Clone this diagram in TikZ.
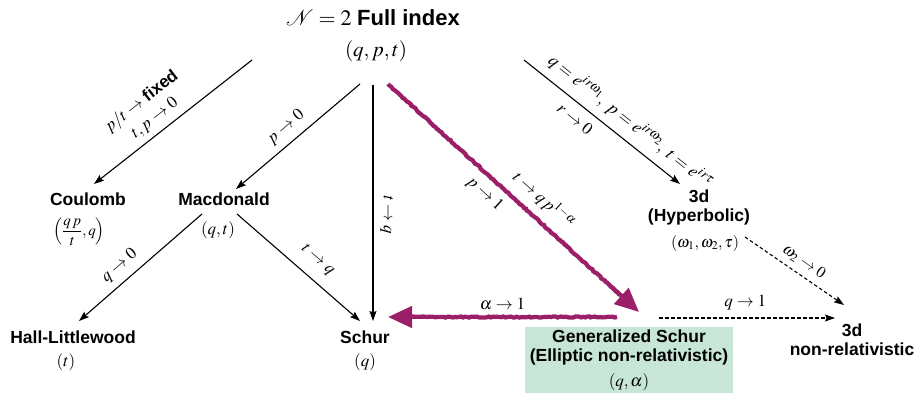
\documentclass[tikz,border=0pt]{standalone}
\usepackage{mathptmx}
\usepackage{fontspec}
\setmainfont{Liberation Serif}
\setsansfont{Liberation Sans}
\usetikzlibrary{arrows.meta,decorations.pathmorphing,calc}
\definecolor{magc}{RGB}{155,30,105}
\definecolor{boxg}{RGB}{200,230,215}
\begin{document}
\begin{tikzpicture}[x=1pt,y=-1pt,
  lab/.style={font=\sffamily\bfseries\fontsize{17.5}{19.5}\selectfont, inner sep=0pt, align=center},
  mth/.style={font=\fontsize{17}{20}\selectfont, inner sep=0pt},
  conn/.style={-{Stealth[length=10pt,width=7pt,inset=1.5pt]}, line width=1.1pt},
  dconn/.style={conn, dash pattern=on 3.5pt off 2.5pt},
  elab/.style={font=\fontsize{17}{21}\selectfont, sloped, inner sep=7pt},
  magline/.style={draw=magc, line width=4.2pt, decorate, decoration={random steps, segment length=2pt, amplitude=0.6pt}},
  magtip/.style={draw=magc, fill=magc, line width=4.2pt, -{Triangle[length=24pt,width=21pt]}}
]
\useasboundingbox (0,0) rectangle (915,393);

% nodes
\node[font=\fontsize{22}{26}\selectfont, inner sep=0pt] (title) at (373,18) {$\mathcal{N}=2$ \textsf{\bfseries Full index}};
\node[font=\fontsize{21}{26}\selectfont, inner sep=0pt] (topv) at (376,51) {$(q,p,t)$};

\node[lab] (coul) at (88,199) {Coulomb};
\node[mth, font=\fontsize{15}{18}\selectfont] (coulv) at (79,232) {$\left({\displaystyle\frac{q\,p}{t}},q\right)$};
\node[lab] (mac) at (224,199) {Macdonald};
\node[mth] (macv) at (218,230) {$(q,t)$};
\node[lab] (hl) at (73,337) {Hall-Littlewood};
\node[mth] (hlv) at (66,362) {$(t)$};
\node[lab] (schur) at (365,337) {Schur};
\node[mth] (schurv) at (365,362) {$(q)$};
\node[lab] (hyp) at (699,207.5) {3d\\(Hyperbolic)};
\node[mth, font=\fontsize{16}{20}\selectfont] (hypv) at (705,243) {$(\omega_1,\omega_2,\tau)$};
\node[fill=boxg, minimum width=208pt, minimum height=70pt, inner sep=0pt] (gbox) at (629,362) {};
\node[lab] (gen) at (629,347.5) {Generalized Schur\\(Elliptic non-relativistic)};
\node[mth] (genv) at (629,382) {$(q,\alpha)$};
\node[lab] (nr) at (852,339.5) {3d\\non-relativistic};

% connector end points
\coordinate (a1s) at (252,60);  \coordinate (a1e) at (94,184);
\coordinate (a2s) at (360,84);  \coordinate (a2e) at (236,189);
\coordinate (a3s) at (373,85);  \coordinate (a3e) at (373,321);
\coordinate (a4s) at (202,214); \coordinate (a4e) at (79,321);
\coordinate (a5s) at (237,214); \coordinate (a5e) at (360,321);
\coordinate (a6s) at (524,60);  \coordinate (a6e) at (680,184);
\coordinate (a7s) at (745,237); \coordinate (a7e) at (844,305);
\coordinate (a8s) at (659,318); \coordinate (a8e) at (835,318);
\coordinate (m1s) at (388,84);  \coordinate (m1e) at (639,312);
\coordinate (m2s) at (617,317); \coordinate (m2e) at (388,317);

% black connectors
\draw[conn] (a1s) -- node[elab, above, pos=0.56, align=center, inner sep=6pt] (l1) {$p/t\to$ \textsf{\bfseries fixed}\\$t,p\to 0$} (a1e);
\draw[conn] (a2s) -- node[elab, above, pos=0.52] (l2) {$p\to 0$} (a2e);
\draw[conn] (a3s) -- (a3e);
\node[font=\fontsize{17}{20}\selectfont, rotate=-90, anchor=south, inner sep=7pt] (l3) at ($(a3s)!0.55!(a3e)$) {$t\to q$};
\draw[conn] (a4s) -- node[elab, above, pos=0.59] (l4) {$q\to 0$} (a4e);
\draw[conn] (a5s) -- node[elab, above, pos=0.56, inner sep=11pt] (l5) {$t\to q$} (a5e);
\draw[conn] (a6s) -- node[elab, above, pos=0.61, font=\fontsize{18}{20}\selectfont, inner sep=8pt] (l6) {$q=e^{ir\omega_1},\;p=e^{ir\omega_2},\;t=e^{ir\tau}$}
                     node[elab, below, pos=0.385, inner sep=8pt] (l6b) {$r\to 0$} (a6e);
\draw[dconn] (a7s) -- node[elab, above, pos=0.52, font=\fontsize{16}{20}\selectfont, inner sep=6pt] (l7) {$\omega_2\to 0$} (a7e);
\draw[dconn] (a8s) -- node[elab, above, pos=0.49] (l8) {$q\to 1$} (a8e);

% magenta connectors
\path[magline] (m1s) -- ($(m1e)!18pt!(m1s)$);
\draw[magtip] ($(m1e)!40pt!(m1s)$) -- (m1e);
\path (m1s) -- node[elab, above, pos=0.57, inner sep=10pt] (l9) {$t\to q\,p^{1-\alpha}$}
              node[elab, below, pos=0.43, inner sep=9pt] (l9b) {$p\to 1$} (m1e);
\path[magline] (m2s) -- ($(m2e)!18pt!(m2s)$);
\draw[magtip] ($(m2e)!40pt!(m2s)$) -- (m2e);
\path (m2s) -- node[elab, above, pos=0.5] (l10) {$\alpha\to 1$} (m2e);
\end{tikzpicture}
\end{document}
